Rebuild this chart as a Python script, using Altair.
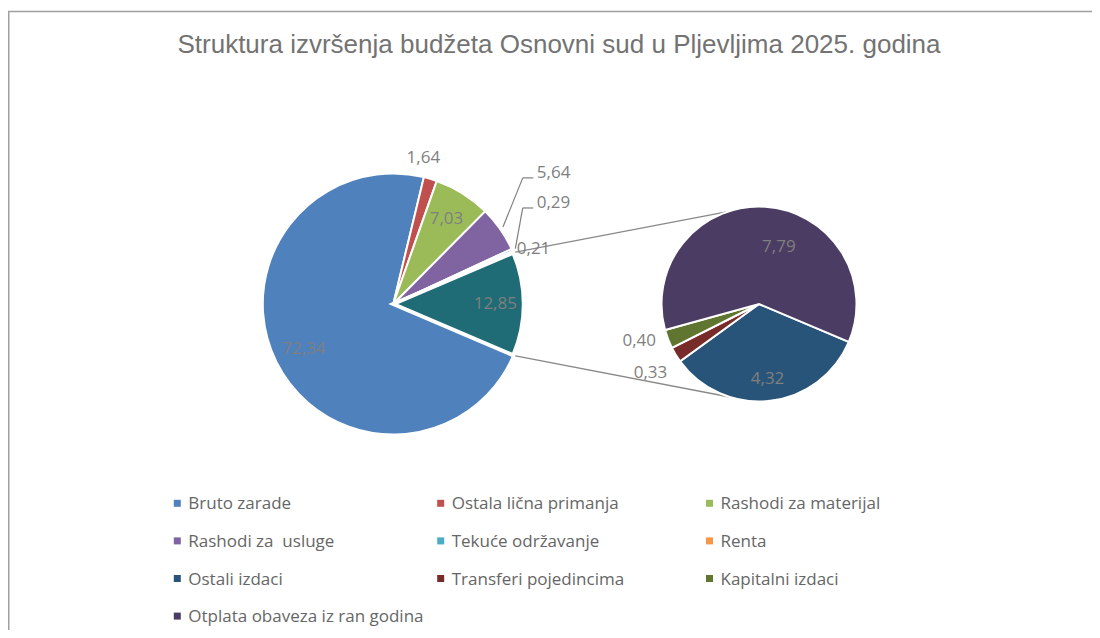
import math
import altair as alt
import pandas as pd

# ---------------- data ----------------
title_text = "Struktura izvršenja budžeta Osnovni sud u Pljevljima 2025. godina"

main_cats = ["Bruto zarade", "Ostala lična primanja", "Rashodi za materijal",
             "Rashodi za\u00a0 usluge", "Tekuće održavanje", "Renta", "Ostalo"]
main_vals = [72.34, 1.64, 7.03, 5.64, 0.29, 0.21, 12.85]

sub_cats = ["Ostali izdaci", "Transferi pojedincima", "Kapitalni izdaci",
            "Otplata obaveza iz ran godina"]
sub_vals = [4.32, 0.33, 0.40, 7.79]

legend_cats = main_cats[:6] + sub_cats
all_cats = main_cats + sub_cats
all_colors = ["#4F81BD", "#C0504D", "#9BBB59", "#8064A2", "#4BACC6", "#F79646",
              "#1F6B76", "#28547A", "#772C2A", "#5F7530", "#4B3C63"]

# ---------------- layout / style ----------------
W, H = 1084, 622
MAIN_C, MAIN_R = (385.3, 296.0), 130.5
SUB_C, SUB_R = (751.0, 296.0), 97.5
SUB_START = 112.9          # degrees, clockwise from 12 o'clock
LABEL_FONT = "Open Sans"
LABEL_COLOR = "#7F7F7F"
LEG_COLS_X = [169.3, 432.7, 701.5]
LEG_ROW0, LEG_ROW_STEP = 495.3, 37.6

# label placement: radius from centre, pixel nudge, alignment
main_place = [(100, 0, 0, "center"), (148, -12, -4, "center"), (100, 0, 0, "center"),
              (MAIN_R, 36.7, -55.6, "left"), (MAIN_R, 24.6, -46.6, "left"),
              (MAIN_R, 3.8, -2.8, "left"), (100, 2, 0, "center")]
main_leader = [False, False, False, True, True, False, False]
sub_place = [(75, 0, 0, "center"), (SUB_R, -8.5, 18, "right"),
             (SUB_R, -12, 2, "right"), (75, 15, 18, "center")]


def polar(c, r, deg):
    a = math.radians(deg)
    return c[0] + r * math.sin(a), c[1] - r * math.cos(a)


def fmt(v):
    return f"{v:.2f}".replace(".", ",")


main_total = sum(main_vals)
main_start = 90 + main_vals[-1] / main_total * 180.0
sub_total = sum(sub_vals)

# slice tables
main_df = pd.DataFrame({"cat": main_cats, "val": main_vals, "idx": range(len(main_cats))})
sub_df = pd.DataFrame({"cat": sub_cats, "val": sub_vals, "idx": range(len(sub_cats))})

# labels & leaders derived from the values
labels, leaders = [], []
acc = 0.0
for cat, v, (rr, dx, dy, al), lead in zip(main_cats, main_vals, main_place, main_leader):
    mid = main_start + (acc + v / 2) / main_total * 360
    acc += v
    ax, ay = polar(MAIN_C, rr, mid)
    tx, ty = ax + dx, ay + dy
    labels.append({"x": tx, "y": ty, "t": fmt(v), "al": al})
    if lead:
        sx, sy = polar(MAIN_C, MAIN_R + 3.5, mid)
        leaders.append({"x": sx, "y": sy, "x2": tx - 14, "y2": ty + 4.5})
        leaders.append({"x": tx - 14, "y": ty + 4.5, "x2": tx - 3.5, "y2": ty + 4.5})
acc = 0.0
for cat, v, (rr, dx, dy, al) in zip(sub_cats, sub_vals, sub_place):
    mid = SUB_START + (acc + v / 2) / sub_total * 360
    acc += v
    ax, ay = polar(SUB_C, rr, mid)
    labels.append({"x": ax + dx, "y": ay + dy, "t": fmt(v), "al": al})
lab_df = pd.DataFrame(labels)

# connector lines between the "other" slice and the second pie
other_a0 = main_start + (main_total - main_vals[-1]) / main_total * 360
other_a1 = other_a0 + main_vals[-1] / main_total * 360
p0 = polar(MAIN_C, MAIN_R + 1, other_a0)
p1 = polar(MAIN_C, MAIN_R + 1, other_a1)
q0 = polar(SUB_C, SUB_R, -18.7)
q1 = polar(SUB_C, SUB_R, 197.5)
conn_df = pd.DataFrame([{"x": p0[0], "y": p0[1], "x2": q0[0], "y2": q0[1]},
                        {"x": p1[0], "y": p1[1], "x2": q1[0], "y2": q1[1]}])
lead_df = pd.DataFrame(leaders)
border_df = pd.DataFrame([{"x": 0, "y": 3.5, "x2": W, "y2": 3.5},
                          {"x": 0.75, "y": 3.5, "x2": 0.75, "y2": H}])

# legend table (3 columns, row-major)
leg_df = pd.DataFrame({
    "cat": legend_cats,
    "x": [LEG_COLS_X[i % 3] for i in range(len(legend_cats))],
    "y": [LEG_ROW0 + (i // 3) * LEG_ROW_STEP for i in range(len(legend_cats))],
})
leg_df["tx"] = leg_df["x"] + 11

xs = alt.Scale(domain=[0, W], nice=False, zero=False)
ys = alt.Scale(domain=[0, H], nice=False, zero=False, reverse=True)
color_scale = alt.Scale(domain=all_cats, range=all_colors)


def rules(df, color, width):
    return alt.Chart(df).mark_rule(color=color, strokeWidth=width).encode(
        x=alt.X("x:Q", scale=xs, axis=None), y=alt.Y("y:Q", scale=ys, axis=None),
        x2="x2:Q", y2="y2:Q")


border = rules(border_df, "#A0A0A0", 1.5)
connectors = rules(conn_df, "#898989", 1.3)
leader_lines = rules(lead_df, "#7F7F7F", 1.2)

main_pie = alt.Chart(main_df).mark_arc(outerRadius=MAIN_R, stroke="white").encode(
    theta=alt.Theta("val:Q", stack=True,
                    scale=alt.Scale(range=[math.radians(main_start),
                                           math.radians(main_start) + 2 * math.pi])),
    order=alt.Order("idx:Q"),
    color=alt.Color("cat:N", scale=color_scale, legend=None),
    strokeWidth=alt.condition("datum.cat === 'Ostalo'", alt.value(4), alt.value(2)),
    x=alt.value(MAIN_C[0]),
    y=alt.value(MAIN_C[1]),
)

sub_pie = alt.Chart(sub_df).mark_arc(outerRadius=SUB_R, stroke="white", strokeWidth=2).encode(
    theta=alt.Theta("val:Q", stack=True,
                    scale=alt.Scale(range=[math.radians(SUB_START),
                                           math.radians(SUB_START) + 2 * math.pi])),
    order=alt.Order("idx:Q"),
    color=alt.Color("cat:N", scale=color_scale, legend=None),
    x=alt.value(SUB_C[0]),
    y=alt.value(SUB_C[1]),
)


def text_layer(al):
    return alt.Chart(lab_df[lab_df["al"] == al]).mark_text(
        align=al, baseline="middle", font=LABEL_FONT, fontSize=17, color=LABEL_COLOR
    ).encode(x=alt.X("x:Q", scale=xs, axis=None), y=alt.Y("y:Q", scale=ys, axis=None),
             text="t:N")


leg_symbols = alt.Chart(leg_df).mark_square(size=49, opacity=1, strokeWidth=0).encode(
    x=alt.X("x:Q", scale=xs, axis=None), y=alt.Y("y:Q", scale=ys, axis=None),
    color=alt.Color("cat:N", scale=color_scale, legend=None))
leg_text = alt.Chart(leg_df).mark_text(
    align="left", baseline="middle", font=LABEL_FONT, fontSize=17, color="#666666",
    dy=1
).encode(x=alt.X("tx:Q", scale=xs, axis=None), y=alt.Y("y:Q", scale=ys, axis=None),
         text="cat:N")

title = alt.Chart(pd.DataFrame({"t": [title_text]})).mark_text(
    align="center", baseline="alphabetic", font="Liberation Sans", fontSize=26,
    color="#737373"
).encode(x=alt.value(551), y=alt.value(44.7), text="t:N")

chart = alt.layer(
    border, connectors, main_pie, sub_pie, leader_lines,
    text_layer("center"), text_layer("left"), text_layer("right"),
    leg_symbols, leg_text, title
).resolve_scale(theta="independent").properties(
    width=W, height=H, padding=0, autosize=alt.AutoSizeParams(type="none")
).configure_view(stroke=None)

chart.save("out.html", embed_options={"renderer": "svg", "actions": False})
